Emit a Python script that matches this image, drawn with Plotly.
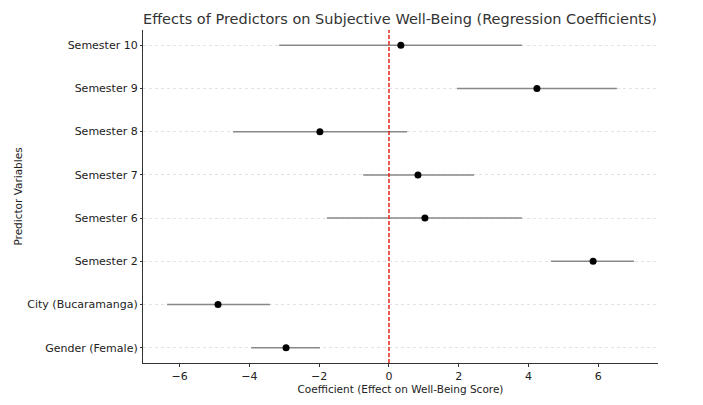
import plotly.graph_objects as go

# predictors, bottom to top
predictors = ["Gender (Female)", "City (Bucaramanga)", "Semester 2", "Semester 6",
              "Semester 7", "Semester 8", "Semester 9", "Semester 10"]
coef = [-2.95, -4.9, 5.85, 1.03, 0.83, -1.98, 4.24, 0.34]
ci_low = [-3.95, -6.36, 4.64, -1.78, -0.74, -4.47, 1.95, -3.15]
ci_high = [-1.98, -3.41, 7.02, 3.81, 2.44, 0.52, 6.53, 3.81]

err_plus = [h - c for h, c in zip(ci_high, coef)]
err_minus = [c - l for c, l in zip(coef, ci_low)]

fig = go.Figure()

fig.add_trace(go.Scatter(
    x=coef, y=predictors,
    mode="markers",
    marker=dict(color="black", size=7),
    error_x=dict(type="data", symmetric=False, array=err_plus, arrayminus=err_minus,
                 color="#888888", thickness=1.5, width=0),
    showlegend=False,
))

# zero reference line
fig.add_vline(x=0, line_color="#e8211c", line_dash="4px,2px", line_width=1.5)

# page body adds an 8px margin, so the figure is a bit smaller than the window
W, H = 695, 397
fig.update_layout(
    width=W, height=H,
    template="plotly_white",
    paper_bgcolor="white", plot_bgcolor="white",
    font=dict(family="DejaVu Sans", size=11, color="#222222"),
    title=dict(text="Effects of Predictors on Subjective Well-Being (Regression Coefficients)",
               x=392 / W, xanchor="center", y=1 - 11 / H, yanchor="middle",
               font=dict(size=14.5, color="#333333")),
    margin=dict(l=135, r=45, t=22, b=42, autoexpand=False),
)

fig.update_xaxes(
    automargin=False,
    range=[-7.05, 7.71],
    tickvals=[-6, -4, -2, 0, 2, 4, 6],
    ticktext=["\u22126", "\u22124", "\u22122", "0", "2", "4", "6"],
    showgrid=False, zeroline=False,
    showline=True, linecolor="#333333", linewidth=1.2,
    ticks="outside", ticklen=3, tickcolor="#333333",
    title=dict(text="Coefficient (Effect on Well-Being Score)", font=dict(size=10.5), standoff=0),
)
fig.update_yaxes(
    automargin=False,
    categoryorder="array", categoryarray=predictors,
    range=[-0.35, 7.35],
    showgrid=True, gridcolor="#e2e2e2", griddash="dot", gridwidth=0.8,
    zeroline=False,
    showline=True, linecolor="#333333", linewidth=1.2,
    ticks="outside", ticklen=2, tickcolor="#333333",
    title=dict(text="Predictor Variables", font=dict(size=10.5), standoff=2),
)

fig.write_html("out.html")
